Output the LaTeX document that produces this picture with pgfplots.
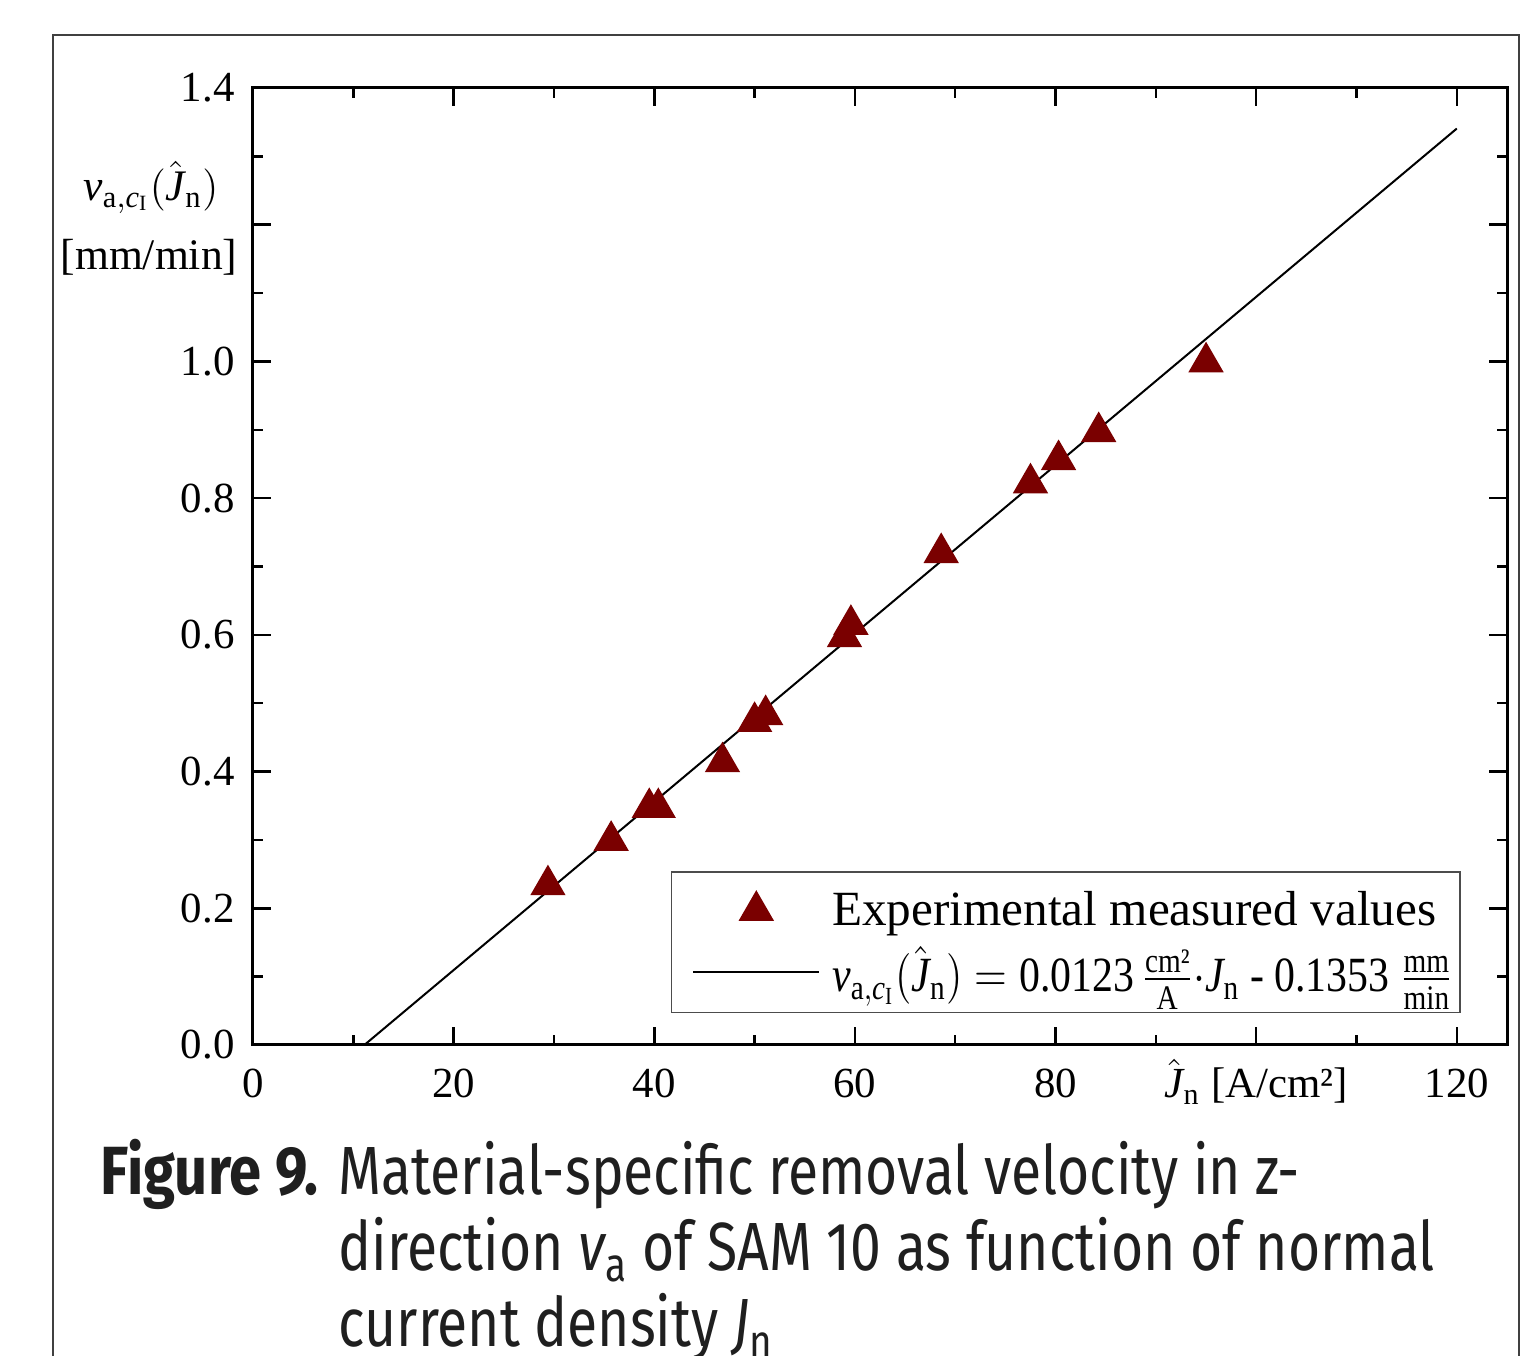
\documentclass[border=0pt]{standalone}
\usepackage{fontspec}
\setmainfont{Liberation Serif}
\newfontfamily\capfont{Fira Sans}[FakeStretch=0.81]
\newfontfamily\capfontb{Fira Sans Bold}[FakeStretch=0.85]
\usepackage{amsmath}
\usepackage{graphicx}
\usepackage{pgfplots}
\pgfplotsset{compat=1.18}
\definecolor{mk}{RGB}{122,0,0}
\pgfplotsset{
  mkleg/.style={legend image code/.code={\path (-0.21cm,0cm) (0cm,0.30cm); \draw[mark repeat=2,mark phase=2,##1] plot coordinates {(0cm,0cm)(0.63cm,0cm)(1.26cm,0cm)}; \path (1.31cm,0cm);}},
  lnleg/.style={legend image code/.code={\path (-0.21cm,0cm); \draw[##1] (0cm,0cm) -- (1.26cm,0cm); \path (1.31cm,0cm);}},
}
\pgfplotstableread{
x y
29.4 0.234
35.7 0.299
39.5 0.347
40.4 0.347
46.8 0.414
50.0 0.473
51.1 0.483
58.96 0.597
59.6 0.615
68.6 0.720
77.5 0.822
80.3 0.856
84.3 0.897
95.0 0.999
}\meas
\begin{document}
\begin{tikzpicture}[x=1cm,y=1cm]
\useasboundingbox (0,0) rectangle (15.26,13.56);
\clip (0,0) rectangle (15.26,13.56);
\fill[white] (0,0) rectangle (15.26,13.56);
\draw[line width=0.02cm, black!75] (0.53,-1) -- (0.53,13.21) -- (15.19,13.21) -- (15.19,-1);
\begin{axis}[
 scale only axis, width=12.54cm, height=9.57cm,
 at={(2.53cm,3.11cm)}, anchor=south west,
 xmin=0, xmax=125, ymin=0, ymax=1.4,
 xtick={0,20,40,60,80,100,120}, xticklabels={0,20,40,60,80,,120},
 ytick={0,0.2,0.4,0.6,0.8,1.0,1.2,1.4},
 yticklabels={0.0,0.2,0.4,0.6,0.8,1.0,,1.4},
 minor x tick num=1, minor y tick num=1,
 tick align=inside, tick pos=both, xticklabel pos=lower, yticklabel pos=left,
 major tick length=0.18cm, minor tick length=0.10cm,
 axis line style={line width=0.03cm},
 every tick/.style={line width=0.025cm, black},
 y tick label style={xshift=-0.06cm},
 x tick label style={anchor=base, yshift=-0.53cm},
 ticklabel style={font=\fontsize{12.2}{14}\selectfont},
 clip=false,
 legend cell align=left,
 legend style={at={(0.963,0.0334)}, anchor=south east, draw=black!70, line width=0.015cm,
   font=\fontsize{14}{16}\selectfont, inner xsep=0cm, inner ysep=0.08cm, row sep=0.02cm},
]
\addplot[only marks, mark=triangle*, mark size=0.19cm, color=mk, mkleg]
  table[x=x,y=y] {\meas};
\addlegendentry{Experimental measured values}
\addplot[black, line width=0.02cm, lnleg]
  coordinates {(11.1,0) (120,1.3407)};
\addlegendentry{\scalebox{0.85}[1]{$\textit{v}_{\text{a},\textit{c}_{\text{I}}}(\hat{\textit{J}}_{\text{n}}) = \text{0.0123}\,\frac{\text{cm²}}{\text{A}}{\cdot}\textit{J}_{\text{n}}$ - 0.1353 $\frac{\text{mm}}{\text{min}}$}}
\node[anchor=base, font=\fontsize{12.2}{14}\selectfont] at (axis cs:100,0) [yshift=-0.53cm] {$\hat{\textit{J}}_{\text{n}}$ [A/cm²]};
\end{axis}
\node[anchor=base, font=\fontsize{12.4}{14}\selectfont] at (1.51,11.55) {$\textit{v}_{\text{a},\textit{c}_{\text{I}}}(\hat{\textit{J}}_{\text{n}})$};
\node[anchor=base, font=\fontsize{12.4}{14}\selectfont] at (1.49,10.86) {[mm/min]};
\begin{scope}[every node/.style={anchor=base west, inner sep=0, text=black!88, font=\capfont\fontsize{19.4}{22}\selectfont}]
\node[font=\capfontb\fontsize{19.4}{22}\selectfont] at (1.00,1.61) {Figure 9.};
\node at (3.38,1.61) {Material-specific removal velocity in z-};
\node at (3.38,0.85) {direction $\textit{v}_{\text{a}}$ of SAM 10 as function of normal};
\node at (3.38,0.09) {current density $\textit{J}_{\text{n}}$};
\end{scope}
\end{tikzpicture}
\end{document}
